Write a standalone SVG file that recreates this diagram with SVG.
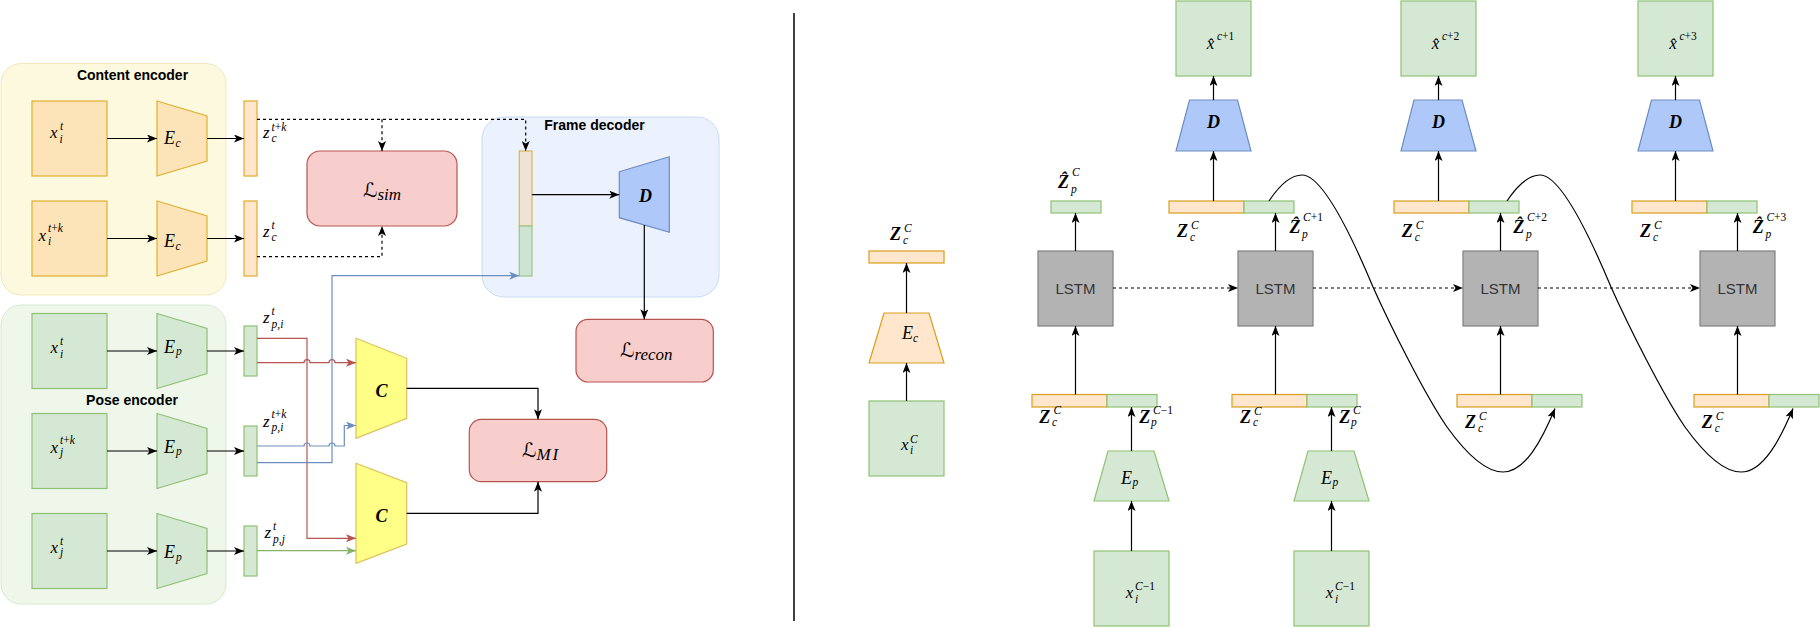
<svg xmlns="http://www.w3.org/2000/svg" width="1820" height="628" viewBox="0 0 1820 628">
<defs>
<marker id="ak" viewBox="0 0 10 8" refX="10" refY="4" markerWidth="10" markerHeight="8" markerUnits="userSpaceOnUse" orient="auto"><path d="M0,0 L10,4 L0,8 L2.5,4 Z" fill="#000"/></marker>
<marker id="ar" viewBox="0 0 10 8" refX="10" refY="4" markerWidth="10" markerHeight="8" markerUnits="userSpaceOnUse" orient="auto"><path d="M0,0 L10,4 L0,8 L2.5,4 Z" fill="#b85450"/></marker>
<marker id="ab" viewBox="0 0 10 8" refX="10" refY="4" markerWidth="10" markerHeight="8" markerUnits="userSpaceOnUse" orient="auto"><path d="M0,0 L10,4 L0,8 L2.5,4 Z" fill="#6c8ebf"/></marker>
<marker id="ag" viewBox="0 0 10 8" refX="10" refY="4" markerWidth="10" markerHeight="8" markerUnits="userSpaceOnUse" orient="auto"><path d="M0,0 L10,4 L0,8 L2.5,4 Z" fill="#82b366"/></marker>
</defs>
<style>
.ttl{font-family:"Liberation Sans",Arial,sans-serif;font-weight:bold;font-size:14px;text-anchor:middle;fill:#000}
.m{font-family:"Liberation Serif","Times New Roman",serif;font-style:italic;font-size:17px;fill:#000}
.mb{font-family:"Liberation Serif","Times New Roman",serif;font-style:italic;font-weight:bold;font-size:18px;fill:#000}
.s{font-size:11.5px}
.up{font-style:normal}
.Lc{font-family:"DejaVu Serif","DejaVu Sans",serif;font-size:20px;fill:#000}
.lstm{font-family:"Liberation Sans",Arial,sans-serif;font-size:15px;fill:#333;text-anchor:middle}
.ob{fill:#fde4b8;stroke:#e0b030;stroke-width:1.2}
.oz{fill:#ffe6cc;stroke:#e2aa2b;stroke-width:1.2}
.or{fill:#ffe6cc;stroke:#d99f1c;stroke-width:1.2}
.gb{fill:#d5e8d4;stroke:#8fc276;stroke-width:1.2}
.lb{fill:#f8cecc;stroke:#b85450;stroke-width:1.2}
.cy{fill:#ffff88;stroke:#dcc15a;stroke-width:1.2}
.db{fill:#aec8fa;stroke:#6c8ebf;stroke-width:1.2}
.ls{fill:#b3b3b3;stroke:#808080;stroke-width:1.2}
.k{fill:none;stroke:#000;stroke-width:1.2}
.kd{fill:none;stroke:#000;stroke-width:1.2;stroke-dasharray:3 3}
.rl{fill:none;stroke:#b85450;stroke-width:1.2}
.bl{fill:none;stroke:#6c8ebf;stroke-width:1.2}
.gl{fill:none;stroke:#82b366;stroke-width:1.2}
</style>
<rect width="1820" height="628" fill="#fff"/>

<!-- containers -->
<g id="content-encoder">
<rect x="1" y="63.5" width="225" height="231.5" rx="20" fill="#fdf9df" stroke="#f2e8b8" stroke-width="1"/>
<text class="ttl" x="132.5" y="80">Content encoder</text>
</g>
<g id="pose-encoder">
<rect x="1" y="305" width="225" height="299" rx="20" fill="#eef7ea" stroke="#d6eacd" stroke-width="1"/>
<text class="ttl" x="132" y="404.5">Pose encoder</text>
</g>
<g id="frame-decoder">
<rect x="482" y="117" width="237" height="180" rx="22" fill="#ebf2fd" stroke="#c8daf4" stroke-width="1"/>
<text class="ttl" x="594.5" y="130">Frame decoder</text>
</g>

<!-- content encoder nodes -->
<g id="xc1"><rect class="ob" x="32" y="101" width="75" height="75"/>
<text class="m"><tspan x="50" y="137.5">x</tspan><tspan class="s" x="60" y="130">t</tspan><tspan class="s" x="59.5" y="142.5">i</tspan></text></g>
<g id="Ec1"><polygon class="ob" points="157,101 207,116 207,161 157,176"/>
<text class="m"><tspan x="164" y="144" font-size="18">E</tspan><tspan class="s" x="175.5" y="147">c</tspan></text></g>
<g id="zc1"><rect class="oz" x="244" y="101" width="13" height="75"/>
<text class="m"><tspan x="263" y="137.5">z</tspan><tspan class="s" x="271.5" y="130.5">t<tspan class="up">+</tspan>k</tspan><tspan class="s" x="271.5" y="141.5">c</tspan></text></g>
<g id="xc2"><rect class="ob" x="32" y="201" width="75" height="75"/>
<text class="m"><tspan x="38.5" y="240.5">x</tspan><tspan class="s" x="48" y="232">t<tspan class="up">+</tspan>k</tspan><tspan class="s" x="48" y="245">i</tspan></text></g>
<g id="Ec2"><polygon class="ob" points="157,201 207,216 207,261 157,276"/>
<text class="m"><tspan x="164" y="247" font-size="18">E</tspan><tspan class="s" x="175.5" y="250">c</tspan></text></g>
<g id="zc2"><rect class="oz" x="244" y="201" width="13" height="75"/>
<text class="m"><tspan x="263" y="237">z</tspan><tspan class="s" x="271.5" y="229">t</tspan><tspan class="s" x="271.5" y="241">c</tspan></text></g>

<!-- pose encoder nodes -->
<g id="xp1"><rect class="gb" x="32" y="313.5" width="75" height="75"/>
<text class="m"><tspan x="50.5" y="353">x</tspan><tspan class="s" x="60" y="345">t</tspan><tspan class="s" x="60" y="357.5">i</tspan></text></g>
<g id="Ep1"><polygon class="gb" points="157,313.5 207,328.5 207,373.5 157,388.5"/>
<text class="m"><tspan x="164" y="352.7" font-size="18">E</tspan><tspan class="s" x="176" y="355">p</tspan></text></g>
<g id="zp1"><rect class="gb" x="244" y="326" width="13" height="50"/>
<text class="m"><tspan x="263" y="323">z</tspan><tspan class="s" x="271.5" y="314.5">t</tspan><tspan class="s" x="271.5" y="327.5">p<tspan class="up">,</tspan>i</tspan></text></g>
<g id="xp2"><rect class="gb" x="32" y="413.5" width="75" height="75"/>
<text class="m"><tspan x="50.5" y="453">x</tspan><tspan class="s" x="60" y="444">t<tspan class="up">+</tspan>k</tspan><tspan class="s" x="60" y="456">j</tspan></text></g>
<g id="Ep2"><polygon class="gb" points="157,413.5 207,428.5 207,473.5 157,488.5"/>
<text class="m"><tspan x="164" y="452.5" font-size="18">E</tspan><tspan class="s" x="176" y="455">p</tspan></text></g>
<g id="zp2"><rect class="gb" x="244" y="426" width="13" height="50"/>
<text class="m"><tspan x="263" y="426.5">z</tspan><tspan class="s" x="271.5" y="418">t<tspan class="up">+</tspan>k</tspan><tspan class="s" x="271.5" y="430.5">p<tspan class="up">,</tspan>i</tspan></text></g>
<g id="xp3"><rect class="gb" x="32" y="513.5" width="75" height="75"/>
<text class="m"><tspan x="50.5" y="553">x</tspan><tspan class="s" x="60" y="545">t</tspan><tspan class="s" x="60" y="556">j</tspan></text></g>
<g id="Ep3"><polygon class="gb" points="157,513.5 207,528.5 207,573.5 157,588.5"/>
<text class="m"><tspan x="164" y="558" font-size="18">E</tspan><tspan class="s" x="176" y="560.5">p</tspan></text></g>
<g id="zp3"><rect class="gb" x="244" y="526" width="13" height="50"/>
<text class="m"><tspan x="264.5" y="538">z</tspan><tspan class="s" x="273" y="530">t</tspan><tspan class="s" x="273" y="542.5">p<tspan class="up">,</tspan>j</tspan></text></g>

<!-- losses, classifiers, decoder -->
<g id="Lsim"><rect class="lb" x="307" y="151" width="150" height="75" rx="13"/>
<text class="Lc" x="363" y="197">ℒ<tspan class="m" font-size="13" dy="3">sim</tspan></text></g>
<g id="C1"><polygon class="cy" points="356,338.3 406.7,358.3 406.7,418.3 356,438.3"/>
<text class="mb" x="381.5" y="397" text-anchor="middle">C</text></g>
<g id="C2"><polygon class="cy" points="356,463.3 406.7,482.7 406.7,544 356,563.3"/>
<text class="mb" x="381.5" y="521.5" text-anchor="middle">C</text></g>
<g id="LMI"><rect class="lb" x="469.3" y="419.3" width="137.4" height="62.4" rx="12"/>
<text class="Lc" x="522" y="457">ℒ<tspan class="m" font-size="13" dy="3" letter-spacing="2">MI</tspan></text></g>
<g id="Lrecon"><rect class="lb" x="576" y="319.3" width="137.3" height="62.7" rx="12"/>
<text class="Lc" x="620" y="357">ℒ<tspan class="m" font-size="13" dy="3">recon</tspan></text></g>
<g id="dec-bar"><rect x="519.3" y="151" width="12.7" height="75" fill="#efe3d5" stroke="#dbb455" stroke-width="1.2"/>
<rect x="519.3" y="226" width="12.7" height="50" fill="#cfe3d2" stroke="#98c785" stroke-width="1.2"/></g>
<g id="Dleft"><polygon class="db" points="619.3,171.7 669.3,156.7 669.3,232.3 619.3,217.7"/>
<text class="mb" x="645.5" y="201.5" text-anchor="middle">D</text></g>

<!-- divider -->
<line x1="794" y1="13" x2="794" y2="621" stroke="#000" stroke-width="1.5"/>

<!-- right: column 0 -->
<g id="r-x0"><rect class="gb" x="869" y="401" width="75" height="75"/>
<text class="m"><tspan x="901" y="450">x</tspan><tspan class="s" x="910" y="442.5">C</tspan><tspan class="s" x="910" y="454">i</tspan></text></g>
<g id="r-Ec"><polygon class="or" points="884,313 929,313 944,363 869,363"/>
<text class="m"><tspan x="902" y="339.3" font-size="18">E</tspan><tspan class="s" x="913" y="342">c</tspan></text></g>
<g id="r-zc0"><rect class="or" x="869" y="251" width="75" height="12"/>
<text class="mb" font-size="17"><tspan x="890" y="240">Z</tspan><tspan class="s" font-weight="normal" x="904" y="232">C</tspan><tspan class="s" font-weight="normal" x="903" y="243.5">c</tspan></text></g>

<!-- column 1 -->
<g id="r-lstm1"><rect class="ls" x="1038" y="251" width="75" height="75"/><text class="lstm" x="1075.5" y="293.5">LSTM</text></g>
<g id="r-zp1hat"><rect class="gb" x="1051" y="201" width="50" height="12"/>
<text class="mb" font-size="17"><tspan x="1058" y="188.3">Ẑ</tspan><tspan class="s" font-weight="normal" x="1072" y="176">C</tspan><tspan class="s" font-weight="normal" x="1071" y="192.5">p</tspan></text></g>
<g id="r-bar1"><rect class="or" x="1032" y="394.5" width="75" height="12.5"/><rect class="gb" x="1107" y="394.5" width="50" height="12.5"/>
<text class="mb" font-size="17"><tspan x="1039.3" y="422.7">Z</tspan><tspan class="s" font-weight="normal" x="1053.5" y="414">C</tspan><tspan class="s" font-weight="normal" x="1052" y="425.5">c</tspan></text>
<text class="mb" font-size="17"><tspan x="1139.3" y="422.7">Z</tspan><tspan class="s" font-weight="normal" x="1153" y="414">C<tspan class="up">−1</tspan></tspan><tspan class="s" font-weight="normal" x="1151" y="426">p</tspan></text></g>
<g id="r-Ep1"><polygon class="gb" points="1108,451 1154,451 1169,501 1094,501"/>
<text class="m"><tspan x="1121" y="484" font-size="18">E</tspan><tspan class="s" x="1132.5" y="486">p</tspan></text></g>
<g id="r-x1"><rect class="gb" x="1094" y="551" width="75" height="75"/>
<text class="m"><tspan x="1125.7" y="598.3">x</tspan><tspan class="s" x="1135" y="590">C<tspan class="up">−1</tspan></tspan><tspan class="s" x="1135" y="603">i</tspan></text></g>

<!-- column 2 -->
<g id="r-xh1"><rect class="gb" x="1176" y="1" width="75" height="75"/>
<text class="m"><tspan x="1206.7" y="49">x̂</tspan><tspan class="s" x="1217" y="40">c<tspan class="up">+1</tspan></tspan></text></g>
<g id="r-D1"><polygon class="db" points="1189.5,100 1237.5,100 1251,151 1176,151"/>
<text class="mb" x="1213.5" y="128" text-anchor="middle">D</text></g>
<g id="r-top2"><rect class="or" x="1169" y="201" width="75" height="12"/><rect class="gb" x="1244" y="201" width="50" height="12"/>
<text class="mb" font-size="17"><tspan x="1177" y="237">Z</tspan><tspan class="s" font-weight="normal" x="1191" y="229">C</tspan><tspan class="s" font-weight="normal" x="1190" y="240.5">c</tspan></text>
<text class="mb" font-size="17"><tspan x="1289.5" y="233">Ẑ</tspan><tspan class="s" font-weight="normal" x="1303" y="220.5">C<tspan class="up">+1</tspan></tspan><tspan class="s" font-weight="normal" x="1302" y="237.5">p</tspan></text></g>
<g id="r-lstm2"><rect class="ls" x="1238" y="251" width="75" height="75"/><text class="lstm" x="1275.5" y="293.5">LSTM</text></g>
<g id="r-bar2"><rect class="or" x="1232" y="394.5" width="75" height="12.5"/><rect class="gb" x="1307" y="394.5" width="50" height="12.5"/>
<text class="mb" font-size="17"><tspan x="1240" y="423">Z</tspan><tspan class="s" font-weight="normal" x="1254" y="414.5">C</tspan><tspan class="s" font-weight="normal" x="1253" y="426">c</tspan></text>
<text class="mb" font-size="17"><tspan x="1339.3" y="422.7">Z</tspan><tspan class="s" font-weight="normal" x="1353" y="413.5">C</tspan><tspan class="s" font-weight="normal" x="1351" y="426">p</tspan></text></g>
<g id="r-Ep2"><polygon class="gb" points="1308,451 1354,451 1369,501 1294,501"/>
<text class="m"><tspan x="1321" y="484" font-size="18">E</tspan><tspan class="s" x="1332.5" y="486">p</tspan></text></g>
<g id="r-x2"><rect class="gb" x="1294" y="551" width="75" height="75"/>
<text class="m"><tspan x="1325.7" y="598.3">x</tspan><tspan class="s" x="1335" y="590">C<tspan class="up">−1</tspan></tspan><tspan class="s" x="1335" y="603">i</tspan></text></g>

<!-- column 3 -->
<g id="r-xh2"><rect class="gb" x="1401" y="1" width="75" height="75"/>
<text class="m"><tspan x="1431.7" y="49">x̂</tspan><tspan class="s" x="1442" y="40">c<tspan class="up">+2</tspan></tspan></text></g>
<g id="r-D2"><polygon class="db" points="1414,100 1462,100 1476,151 1401,151"/>
<text class="mb" x="1438.5" y="128" text-anchor="middle">D</text></g>
<g id="r-top3"><rect class="or" x="1394" y="201" width="75" height="12"/><rect class="gb" x="1469" y="201" width="50" height="12"/>
<text class="mb" font-size="17"><tspan x="1401.7" y="237">Z</tspan><tspan class="s" font-weight="normal" x="1415.7" y="229">C</tspan><tspan class="s" font-weight="normal" x="1414.7" y="240.5">c</tspan></text>
<text class="mb" font-size="17"><tspan x="1513.3" y="233">Ẑ</tspan><tspan class="s" font-weight="normal" x="1527" y="220.5">C<tspan class="up">+2</tspan></tspan><tspan class="s" font-weight="normal" x="1526" y="237.5">p</tspan></text></g>
<g id="r-lstm3"><rect class="ls" x="1463" y="251" width="75" height="75"/><text class="lstm" x="1500.5" y="293.5">LSTM</text></g>
<g id="r-bar3"><rect class="or" x="1457" y="394.5" width="75" height="12.5"/><rect class="gb" x="1532" y="394.5" width="50" height="12.5"/>
<text class="mb" font-size="17"><tspan x="1465" y="428.3">Z</tspan><tspan class="s" font-weight="normal" x="1479" y="420">C</tspan><tspan class="s" font-weight="normal" x="1478" y="431.5">c</tspan></text></g>

<!-- column 4 -->
<g id="r-xh3"><rect class="gb" x="1638" y="1" width="75" height="75"/>
<text class="m"><tspan x="1669.3" y="49">x̂</tspan><tspan class="s" x="1679.5" y="40">c<tspan class="up">+3</tspan></tspan></text></g>
<g id="r-D3"><polygon class="db" points="1651.5,100 1699.5,100 1713,151 1638,151"/>
<text class="mb" x="1675.5" y="128" text-anchor="middle">D</text></g>
<g id="r-top4"><rect class="or" x="1632" y="201" width="75" height="12"/><rect class="gb" x="1707" y="201" width="50" height="12"/>
<text class="mb" font-size="17"><tspan x="1640" y="237">Z</tspan><tspan class="s" font-weight="normal" x="1654" y="229">C</tspan><tspan class="s" font-weight="normal" x="1653" y="240.5">c</tspan></text>
<text class="mb" font-size="17"><tspan x="1752.7" y="233">Ẑ</tspan><tspan class="s" font-weight="normal" x="1766.4" y="220.5">C<tspan class="up">+3</tspan></tspan><tspan class="s" font-weight="normal" x="1765.4" y="237.5">p</tspan></text></g>
<g id="r-lstm4"><rect class="ls" x="1700" y="251" width="75" height="75"/><text class="lstm" x="1737.5" y="293.5">LSTM</text></g>
<g id="r-bar4"><rect class="or" x="1694" y="394.5" width="75" height="12.5"/><rect class="gb" x="1769" y="394.5" width="50" height="12.5"/>
<text class="mb" font-size="17"><tspan x="1701.7" y="428.3">Z</tspan><tspan class="s" font-weight="normal" x="1715.7" y="420">C</tspan><tspan class="s" font-weight="normal" x="1714.7" y="431.5">c</tspan></text></g>

<!-- connectors -->
<g id="connectors">
<path class="k" d="M107,138.5 H157" marker-end="url(#ak)"/>
<path class="k" d="M207,138.5 H244" marker-end="url(#ak)"/>
<path class="k" d="M107,238.5 H157" marker-end="url(#ak)"/>
<path class="k" d="M207,238.5 H244" marker-end="url(#ak)"/>
<path class="k" d="M107,351 H157" marker-end="url(#ak)"/>
<path class="k" d="M207,351 H244" marker-end="url(#ak)"/>
<path class="k" d="M107,451 H157" marker-end="url(#ak)"/>
<path class="k" d="M207,451 H244" marker-end="url(#ak)"/>
<path class="k" d="M107,551 H157" marker-end="url(#ak)"/>
<path class="k" d="M207,551 H244" marker-end="url(#ak)"/>
<path class="kd" d="M257,119.3 H525.7 V151" marker-end="url(#ak)"/>
<path class="kd" d="M382,119.3 V151" marker-end="url(#ak)"/>
<path class="kd" d="M257,256.7 H382 V226" marker-end="url(#ak)"/>
<path class="k" d="M532,194.7 H619.3" marker-end="url(#ak)"/>
<path class="k" d="M644.3,225 V319.3" marker-end="url(#ak)"/>
<path class="k" d="M406.7,388.3 H538 V419.3" marker-end="url(#ak)"/>
<path class="k" d="M406.7,513.3 H538 V481.7" marker-end="url(#ak)"/>
<path class="rl" d="M257,338.3 H307 V538.3 H356" marker-end="url(#ar)"/>
<path class="rl" d="M257,362.7 H304 A3,3 0 0 1 310,362.7 H329 A3,3 0 0 1 335,362.7 H356" marker-end="url(#ar)"/>
<path class="bl" d="M257,446 H304 A3,3 0 0 1 310,446 H329 A3,3 0 0 1 335,446 H344.3 V425.5 H356" marker-end="url(#ab)"/>
<path class="bl" d="M257,462.7 H332 V275.7 H519.3" marker-end="url(#ab)"/>
<path class="gl" d="M257,550.7 H356" marker-end="url(#ag)"/>

<path class="k" d="M906.5,401 V363" marker-end="url(#ak)"/>
<path class="k" d="M906.5,313 V263" marker-end="url(#ak)"/>
<path class="k" d="M1075.5,251 V213" marker-end="url(#ak)"/>
<path class="k" d="M1075.5,394.5 V326" marker-end="url(#ak)"/>
<path class="k" d="M1131.5,451 V407" marker-end="url(#ak)"/>
<path class="k" d="M1131.5,551 V501" marker-end="url(#ak)"/>
<path class="kd" d="M1113,288 H1238" marker-end="url(#ak)"/>
<path class="k" d="M1213.5,100 V76" marker-end="url(#ak)"/>
<path class="k" d="M1213.5,201 V151" marker-end="url(#ak)"/>
<path class="k" d="M1275.5,251 V213" marker-end="url(#ak)"/>
<path class="k" d="M1275.5,394.5 V326" marker-end="url(#ak)"/>
<path class="k" d="M1331.5,451 V407" marker-end="url(#ak)"/>
<path class="k" d="M1331.5,551 V501" marker-end="url(#ak)"/>
<path class="kd" d="M1313,288 H1463" marker-end="url(#ak)"/>
<path class="k" d="M1438.5,100 V76" marker-end="url(#ak)"/>
<path class="k" d="M1438.5,201 V151" marker-end="url(#ak)"/>
<path class="k" d="M1500.5,251 V213" marker-end="url(#ak)"/>
<path class="k" d="M1500.5,394.5 V326" marker-end="url(#ak)"/>
<path class="kd" d="M1538,288 H1700" marker-end="url(#ak)"/>
<path class="k" d="M1675.5,100 V76" marker-end="url(#ak)"/>
<path class="k" d="M1675.5,201 V151" marker-end="url(#ak)"/>
<path class="k" d="M1737.5,251 V213" marker-end="url(#ak)"/>
<path class="k" d="M1737.5,394.5 V326" marker-end="url(#ak)"/>
<path class="k" d="M1269,201 C1279,186 1290,175 1302,175 C1320,175 1345,220 1373,287 C1390,325 1425,395 1447,427 C1465,452 1485,472 1503,472 C1525,472 1542,440 1555,408.5" marker-end="url(#ak)"/>
<path class="k" d="M1507,201 C1517,186 1528,175 1540,175 C1558,175 1583,220 1611,287 C1628,325 1663,395 1685,427 C1703,452 1723,472 1741,472 C1763,472 1780,440 1793,408.5" marker-end="url(#ak)"/>
</g>
</svg>
